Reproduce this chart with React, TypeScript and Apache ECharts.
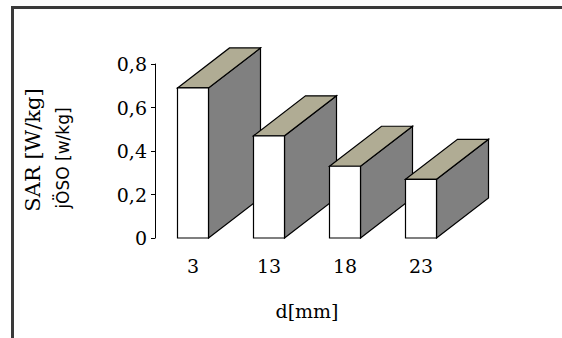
import React, { useEffect, useRef } from "react";
import * as echarts from "echarts";

const categories = ["3", "13", "18", "23"];
const sarValues = [0.69, 0.47, 0.33, 0.27];
const yTicks = { min: 0, max: 0.8, interval: 0.2 };
const xAxisTitle = "d[mm]";
const yAxisTitle = "SAR [W/kg]";
const yAxisSubtitle = "jÖSO [w/kg]";

const FRONT_W = 31;
const DEPTH_X = 52;
const DEPTH_Y = 40;
const SERIF = '"DejaVu Serif"';

export default function App() {
  const ref = useRef<HTMLDivElement>(null);
  useEffect(() => {
    if (!ref.current) return;
    const chart = echarts.init(ref.current, undefined, { renderer: "svg" });
    const data = sarValues.map((v, i) => [i, v]);
    chart.setOption({
      animation: false,
      backgroundColor: "#ffffff",
      grid: { left: 155, right: 103, top: 64, bottom: 100, containLabel: false },
      xAxis: {
        type: "category",
        data: categories,
        boundaryGap: true,
        axisLine: { show: false },
        axisTick: { show: false },
        splitLine: { show: false },
        axisLabel: {
          margin: 18,
          color: "#000",
          fontFamily: "DejaVu Serif",
          fontSize: 19,
        },
        name: xAxisTitle,
        nameLocation: "middle",
        nameGap: 63,
        nameTextStyle: { color: "#000", fontFamily: "DejaVu Serif", fontSize: 19 },
      },
      yAxis: {
        type: "value",
        min: yTicks.min,
        max: yTicks.max,
        interval: yTicks.interval,
        axisLine: { show: true, lineStyle: { color: "#000", width: 1 } },
        axisTick: { show: true, length: 4, lineStyle: { color: "#000" } },
        splitLine: { show: false },
        axisLabel: {
          margin: 8,
          color: "#000",
          fontFamily: "DejaVu Serif",
          fontSize: 19,
          formatter: (v: number) => (v === 0 ? "0" : v.toFixed(1).replace(".", ",")),
        },
      },
      series: [
        {
          type: "custom",
          data,
          renderItem: (params: any, api: any) => {
            const idx = api.value(0);
            const v = api.value(1);
            const base = api.coord([idx, 0]);
            const top = api.coord([idx, v]);
            const l = base[0] - FRONT_W / 2;
            const r = base[0] + FRONT_W / 2;
            const b = base[1];
            const t = top[1];
            return {
              type: "group",
              children: [
                {
                  type: "polygon",
                  shape: {
                    points: [
                      [r, t],
                      [r + DEPTH_X, t - DEPTH_Y],
                      [r + DEPTH_X, b - DEPTH_Y],
                      [r, b],
                    ],
                  },
                  style: { fill: "#808080", stroke: "#000", lineWidth: 1.2 },
                },
                {
                  type: "polygon",
                  shape: {
                    points: [
                      [l, t],
                      [l + DEPTH_X, t - DEPTH_Y],
                      [r + DEPTH_X, t - DEPTH_Y],
                      [r, t],
                    ],
                  },
                  style: { fill: "#b0ac94", stroke: "#000", lineWidth: 1.2 },
                },
                {
                  type: "rect",
                  shape: { x: l, y: t, width: r - l, height: b - t },
                  style: { fill: "#ffffff", stroke: "#000", lineWidth: 1.2 },
                },
              ],
            };
          },
        },
      ],
      graphic: [
        {
          type: "rect",
          left: 10,
          top: 5,
          shape: { x: 0, y: 0, width: 600, height: 400 },
          style: { fill: "none", stroke: "#3a3a3a", lineWidth: 3 },
          silent: true,
        },
        {
          type: "text",
          x: 33,
          y: 150,
          rotation: Math.PI / 2,
          style: {
            text: yAxisTitle,
            fill: "#000",
            font: '21px ' + SERIF,
            textAlign: "center",
            textVerticalAlign: "middle",
          },
        },
        {
          type: "text",
          x: 63,
          y: 158,
          rotation: Math.PI / 2,
          style: {
            text: yAxisSubtitle,
            fill: "#000",
            font: '17px "DejaVu Sans"',
            textAlign: "center",
            textVerticalAlign: "middle",
          },
        },
      ],
    });
    return () => chart.dispose();
  }, []);
  return (
    <div
      ref={ref}
      style={{ position: "fixed", left: 0, top: 0, width: 562, height: 338 }}
    />
  );
}
